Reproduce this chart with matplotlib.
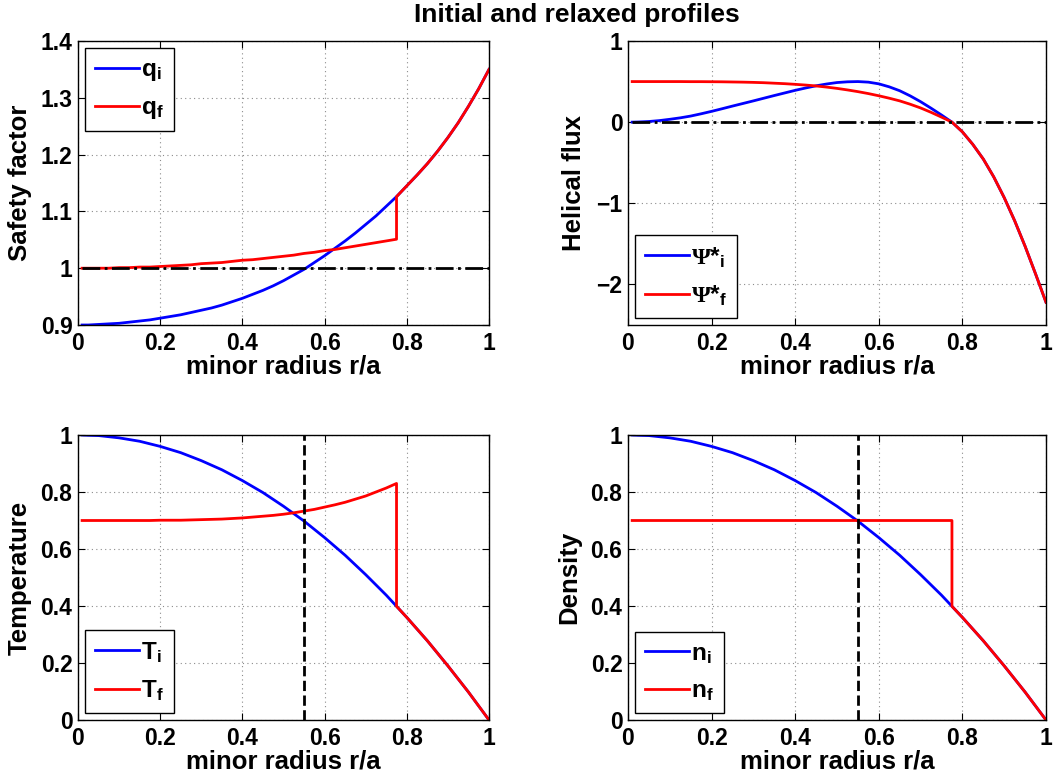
import numpy as np
import matplotlib
matplotlib.use("Agg")
import matplotlib.pyplot as plt
from matplotlib.ticker import FuncFormatter

plt.rcParams["font.family"] = "Liberation Sans"
plt.rcParams["font.weight"] = "bold"
plt.rcParams["axes.labelweight"] = "bold"
plt.rcParams["mathtext.fontset"] = "custom"
plt.rcParams["mathtext.rm"] = "Liberation Serif"
plt.rcParams["mathtext.bf"] = "Liberation Sans:bold"
plt.rcParams["mathtext.it"] = "Liberation Sans:bold"
plt.rcParams["axes.unicode_minus"] = True

# minor radius grid (r/a)
r = [0.01, 0.025, 0.05, 0.075, 0.10, 0.125, 0.15, 0.175, 0.20, 0.225, 0.25, 0.275, 0.30, 0.325,
     0.35, 0.375, 0.40, 0.425, 0.45, 0.475, 0.50, 0.525, 0.55, 0.575, 0.60, 0.625, 0.65, 0.675,
     0.70, 0.725, 0.75, 0.775, 0.80, 0.825, 0.85, 0.875, 0.90, 0.925, 0.95, 0.975, 1.00]
n_in = 32   # points up to the relaxation radius r = 0.775

# initial profiles
q_i = [0.900, 0.900, 0.901, 0.902, 0.903, 0.905, 0.907, 0.909, 0.912, 0.915, 0.918, 0.922, 0.926, 0.930,
       0.935, 0.941, 0.947, 0.954, 0.961, 0.969, 0.978, 0.988, 0.998, 1.010, 1.022, 1.035, 1.048, 1.062,
       1.077, 1.092, 1.109, 1.126, 1.145, 1.164, 1.184, 1.206, 1.230, 1.256, 1.285, 1.316, 1.350]
psi_i = [0.000, 0.002, 0.008, 0.019, 0.035, 0.053, 0.075, 0.103, 0.133, 0.165, 0.198, 0.230, 0.262, 0.295,
         0.328, 0.360, 0.392, 0.421, 0.448, 0.470, 0.488, 0.497, 0.500, 0.493, 0.472, 0.435, 0.387, 0.324,
         0.252, 0.172, 0.088, 0.000, -0.120, -0.275, -0.455, -0.675, -0.930, -1.215, -1.530, -1.870, -2.220]
T_i = [1.000, 0.999, 0.998, 0.994, 0.990, 0.984, 0.978, 0.969, 0.960, 0.949, 0.938, 0.924, 0.910, 0.894,
       0.878, 0.859, 0.840, 0.819, 0.798, 0.774, 0.750, 0.724, 0.698, 0.669, 0.640, 0.609, 0.578, 0.544,
       0.510, 0.474, 0.438, 0.399, 0.360, 0.319, 0.278, 0.234, 0.190, 0.144, 0.098, 0.049, 0.000]
n_i = [1.000, 0.999, 0.998, 0.994, 0.990, 0.984, 0.978, 0.969, 0.960, 0.949, 0.938, 0.924, 0.910, 0.894,
       0.878, 0.859, 0.840, 0.819, 0.798, 0.774, 0.750, 0.724, 0.698, 0.669, 0.640, 0.609, 0.578, 0.544,
       0.510, 0.474, 0.438, 0.399, 0.360, 0.319, 0.278, 0.234, 0.190, 0.144, 0.098, 0.049, 0.000]

# relaxed profiles inside r = 0.775 (outside they follow the initial ones)
q_f_in = [1.000, 1.000, 1.000, 1.000, 1.001, 1.001, 1.002, 1.002, 1.003, 1.004, 1.005, 1.006, 1.008,
          1.009, 1.010, 1.012, 1.014, 1.015, 1.017, 1.019, 1.021, 1.023, 1.026, 1.028, 1.031, 1.033,
          1.036, 1.039, 1.042, 1.045, 1.048, 1.051]
psi_f_in = [0.500, 0.500, 0.500, 0.500, 0.500, 0.500, 0.499, 0.499, 0.498, 0.497, 0.495, 0.493, 0.490,
            0.486, 0.480, 0.474, 0.466, 0.457, 0.446, 0.432, 0.416, 0.397, 0.376, 0.352, 0.325, 0.295,
            0.262, 0.221, 0.175, 0.121, 0.062, 0.000]
T_f_in = [0.700, 0.700, 0.700, 0.700, 0.700, 0.700, 0.700, 0.700, 0.701, 0.701, 0.701, 0.702, 0.703,
          0.704, 0.705, 0.707, 0.709, 0.712, 0.715, 0.718, 0.722, 0.727, 0.733, 0.739, 0.747, 0.755,
          0.764, 0.775, 0.786, 0.800, 0.814, 0.830]
n_f_in = [0.700] * 32

q_res = 1.0      # resonant q
r_res = 0.55     # q = 1 radius

xticks = [0, 0.2, 0.4, 0.6, 0.8, 1]

fig = plt.figure(figsize=(10.53, 7.83), dpi=100)
W, H = 1053, 783


def make_ax(l, t, rgt, b):
    return fig.add_axes([l / W, 1 - b / H, (rgt - l) / W, (b - t) / H])


fmt = FuncFormatter(lambda v, p: ("%g" % round(v, 3)).replace("-", "\u2212"))


def style(ax, ylim, yticks, ylabel, lab_x):
    ax.set_xlim(0, 1)
    ax.set_ylim(*ylim)
    ax.set_xticks(xticks)
    ax.set_yticks(yticks)
    ax.xaxis.set_major_formatter(fmt)
    ax.yaxis.set_major_formatter(fmt)
    ax.tick_params(direction="in", top=True, right=True, labelsize=16.5, length=5, width=0.8)
    ax.tick_params(axis="x", pad=5)
    ax.tick_params(axis="y", pad=4)
    ax.grid(True, color="0.55", linestyle=(0, (1, 3)), linewidth=0.8)
    ax.set_axisbelow(True)
    for s in ax.spines.values():
        s.set_linewidth(1.0)
    ax.set_xlabel("minor radius r/a", fontsize=18.5, labelpad=0)
    ax.set_ylabel(ylabel, fontsize=18.5)
    ax.yaxis.set_label_coords(lab_x, 0.5)


def final(prof_in, prof_i):
    x = list(r[:n_in]) + list(r[n_in - 1:])
    y = list(prof_in) + list(prof_i[n_in - 1:])
    return x, y


leg_kw = dict(fancybox=False, edgecolor="k", framealpha=1, fontsize=17.5, handlelength=1.8,
              handletextpad=0.1, borderaxespad=0.3, borderpad=0.4, labelspacing=0.55)

# Safety factor
ax1 = make_ax(78, 41, 489, 325)
ax1.plot(r, q_i, color="b", lw=2, label=r"$\mathbf{q}_\mathbf{i}$")
ax1.plot(*final(q_f_in, q_i), color="r", lw=2, label=r"$\mathbf{q}_\mathbf{f}$")
ax1.plot([0.01, 1], [q_res, q_res], color="k", lw=2, ls="-.")
style(ax1, (0.9, 1.4), [0.9, 1.0, 1.1, 1.2, 1.3, 1.4], "Safety factor", -0.112)
ax1.legend(loc="upper left", **leg_kw).get_frame().set_linewidth(1.0)

# Helical flux
ax2 = make_ax(628, 41, 1046, 325)
ax2.plot(r, psi_i, color="b", lw=2, label=r"$\Psi\mathbf{*}_\mathbf{i}$")
ax2.plot(*final(psi_f_in, psi_i), color="r", lw=2, label=r"$\Psi\mathbf{*}_\mathbf{f}$")
ax2.plot([0.01, 1], [0, 0], color="k", lw=2, ls="-.")
style(ax2, (-2.5, 1), [-2, -1, 0, 1], "Helical flux", -0.100)
ax2.legend(loc="lower left", **leg_kw).get_frame().set_linewidth(1.0)

# Temperature
ax3 = make_ax(78, 435, 489, 720)
ax3.plot(r, T_i, color="b", lw=2, label=r"$\mathbf{T}_\mathbf{i}$")
ax3.plot(*final(T_f_in, T_i), color="r", lw=2, label=r"$\mathbf{T}_\mathbf{f}$")
ax3.plot([r_res, r_res], [0, 1], color="k", lw=2, ls="--")
style(ax3, (0, 1), [0, 0.2, 0.4, 0.6, 0.8, 1], "Temperature", -0.112)
ax3.legend(loc="lower left", **leg_kw).get_frame().set_linewidth(1.0)

# Density
ax4 = make_ax(628, 435, 1046, 720)
ax4.plot(r, n_i, color="b", lw=2, label=r"$\mathbf{n}_\mathbf{i}$")
ax4.plot(*final(n_f_in, n_i), color="r", lw=2, label=r"$\mathbf{n}_\mathbf{f}$")
ax4.plot([r_res, r_res], [0, 1], color="k", lw=2, ls="--")
style(ax4, (0, 1), [0, 0.2, 0.4, 0.6, 0.8, 1], "Density", -0.112)
ax4.legend(loc="lower left", **leg_kw).get_frame().set_linewidth(1.0)

fig.text(577 / W, 1 - 15 / H, "Initial and relaxed profiles", ha="center", va="center",
         fontsize=19, fontweight="bold")

fig.savefig("out.png", dpi=100)
